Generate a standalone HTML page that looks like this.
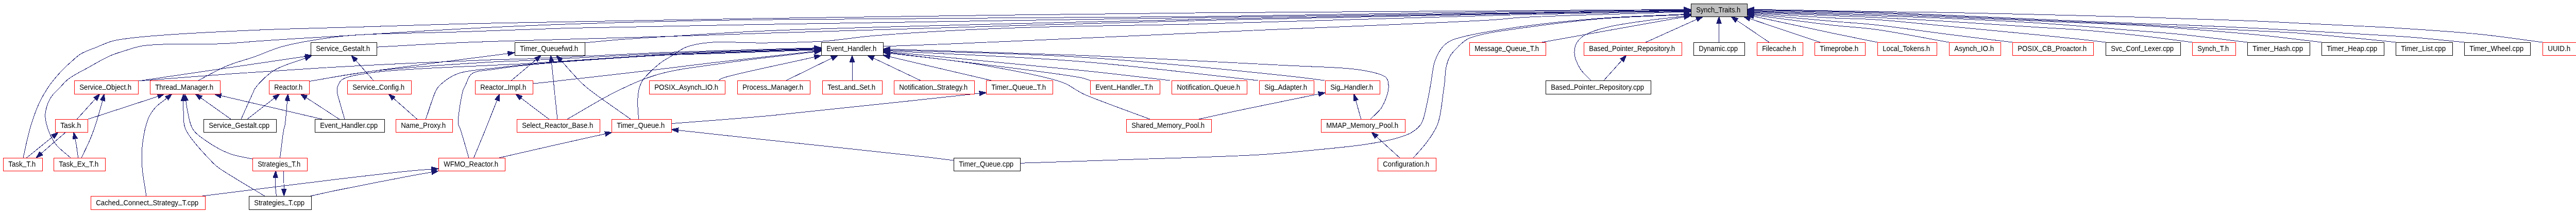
<!DOCTYPE html><html><head><meta charset="utf-8"><style>html,body{margin:0;padding:0;background:#fff;overflow:hidden}svg{display:block;will-change:transform}text{font-family:"Liberation Sans",sans-serif;font-size:14.00px;fill:#000}</style></head><body>
<svg width="5007" height="411" viewBox="0 0 5007 411">
<rect width="5007" height="411" fill="#fff"/>
<path fill="none" stroke="#191970" stroke-width="1" shape-rendering="crispEdges" d="M45.0,306.0 C47.7,294.0 50.2,281.4 53.0,270.0 C55.6,259.5 57.6,250.6 61.0,240.0 C65.0,227.5 70.3,212.2 76.0,200.0 C81.1,189.1 87.0,179.0 93.0,170.0 C98.4,161.9 104.5,154.5 110.0,148.0 C114.8,142.4 119.2,137.7 124.0,133.0 C128.6,128.4 132.9,124.5 138.0,120.0 C143.8,115.0 149.6,108.9 157.0,104.4 C165.6,99.2 176.9,95.8 187.0,91.7 C197.1,87.6 207.0,82.7 217.5,79.8 C228.0,76.9 236.8,76.0 250.0,74.3 C270.2,71.7 296.5,69.5 327.4,67.3 C373.5,64.0 457.3,60.1 500.0,58.2 C525.2,57.1 535.9,56.9 560.0,56.1 C596.4,55.0 646.9,53.7 697.0,52.3 C758.0,50.5 832.6,47.9 900.0,46.2 C966.9,44.5 1023.6,43.7 1100.0,42.3 C1202.5,40.4 1314.3,38.2 1460.0,36.0 C1685.2,32.6 2055.6,27.6 2320.0,25.0 C2546.3,22.8 2775.4,21.9 2950.0,20.7 C3074.2,19.8 3162.5,19.2 3268.7,18.4 M137.0,306.0 C127.0,296.7 114.8,288.9 107.0,278.0 C99.1,267.0 92.9,250.9 90.0,240.0 C88.0,232.5 87.2,227.2 88.0,220.0 C89.0,210.9 93.0,198.6 98.0,190.0 C102.6,182.1 110.0,176.3 116.0,170.0 C121.7,164.0 125.7,158.6 133.0,153.0 C143.1,145.2 159.6,137.5 173.0,130.0 C186.5,122.5 200.8,113.8 213.7,108.2 C224.6,103.4 234.7,100.7 245.0,97.5 C254.9,94.4 263.1,91.3 274.4,89.3 C289.3,86.7 306.4,86.4 327.0,85.6 C356.3,84.4 402.3,86.0 433.6,84.7 C458.4,83.7 478.4,81.3 500.0,79.8 C520.5,78.4 536.6,77.3 560.0,75.8 C593.1,73.7 634.0,71.4 680.0,68.7 C742.3,65.0 828.4,59.4 900.0,55.7 C968.2,52.2 1023.6,49.5 1100.0,46.9 C1202.5,43.4 1314.3,40.5 1460.0,38.3 C1685.2,34.8 2055.6,35.3 2320.0,32.3 C2546.3,29.7 2775.4,24.6 2950.0,22.3 C3074.2,20.7 3162.5,20.2 3268.7,19.1 M385.0,156.0 C403.3,146.7 421.5,135.8 440.0,128.0 C457.8,120.5 476.4,116.2 494.0,110.0 C511.0,104.0 526.9,96.4 544.0,91.4 C561.2,86.3 577.3,83.3 597.0,79.8 C621.5,75.5 645.6,71.5 680.0,68.7 C735.7,64.1 828.4,64.0 900.0,61.6 C968.3,59.3 1023.6,56.7 1100.0,54.6 C1202.5,51.8 1314.3,50.2 1460.0,47.7 C1685.2,43.8 2055.6,38.4 2320.0,34.3 C2546.3,30.8 2775.4,27.3 2950.0,24.7 C3074.2,22.8 3162.5,21.6 3268.7,20.0 M731.0,91.2 C787.3,88.3 841.3,84.8 900.0,82.4 C963.8,79.7 1033.3,78.2 1100.0,76.2 C1166.7,74.2 1233.3,72.5 1300.0,70.5 C1366.7,68.4 1410.7,66.7 1500.0,63.9 C1680.7,58.3 2064.6,46.4 2320.0,40.0 C2543.8,34.4 2775.4,30.1 2950.0,26.6 C3074.2,24.1 3162.5,22.7 3268.7,20.7 M1135.0,83.0 C1156.7,81.0 1176.0,78.9 1200.0,77.0 C1229.7,74.7 1260.9,72.9 1300.0,70.5 C1355.2,67.2 1410.7,63.0 1500.0,59.3 C1680.7,51.9 2064.6,43.5 2320.0,37.7 C2543.8,32.6 2775.4,28.4 2950.0,25.6 C3074.2,23.6 3162.5,22.8 3268.7,21.4 M1239.5,231.0 C1239.0,217.3 1236.8,202.5 1238.0,190.0 C1239.0,179.1 1239.7,169.8 1245.0,160.0 C1251.8,147.5 1269.3,132.3 1280.0,123.5 C1287.5,117.3 1293.3,114.8 1301.0,110.0 C1310.3,104.2 1320.3,95.9 1332.0,91.4 C1345.0,86.4 1358.1,84.2 1376.0,82.5 C1403.6,79.8 1445.7,83.5 1482.0,83.1 C1520.3,82.7 1563.6,82.3 1600.0,79.8 C1631.5,77.6 1654.9,73.0 1688.0,70.0 C1730.7,66.2 1784.6,62.8 1835.0,60.0 C1888.4,57.1 1936.0,55.0 2000.0,53.0 C2089.1,50.2 2195.4,49.7 2320.0,46.7 C2494.8,42.5 2775.4,32.7 2950.0,28.5 C3074.2,25.5 3162.5,24.3 3268.7,22.3 M1714.0,90.0 C1758.0,88.3 1791.7,87.2 1846.0,85.0 C1933.7,81.4 2088.1,74.5 2190.0,70.0 C2271.5,66.4 2322.2,63.9 2410.0,60.0 C2541.1,54.1 2820.9,43.6 2900.0,38.4 C2925.3,36.7 2926.1,35.5 2950.0,34.0 C3010.3,30.3 3162.5,26.8 3268.7,23.2 M1980.0,316.3 C2053.3,313.9 2124.8,311.6 2200.0,309.0 C2279.2,306.2 2379.4,303.9 2444.0,300.0 C2486.6,297.4 2515.2,294.4 2550.0,291.0 C2583.8,287.7 2621.1,284.4 2650.0,280.0 C2672.3,276.6 2692.7,273.0 2709.0,268.4 C2721.0,265.0 2731.0,262.2 2739.6,257.0 C2747.2,252.4 2753.7,247.8 2758.6,240.0 C2764.8,230.1 2766.8,213.4 2770.0,200.0 C2773.1,186.7 2775.1,173.3 2777.5,160.0 C2779.9,146.8 2780.8,132.1 2784.5,120.6 C2787.7,110.9 2791.8,102.0 2797.0,95.0 C2801.5,88.9 2806.8,84.1 2813.0,80.4 C2819.3,76.6 2824.6,75.3 2834.6,72.6 C2856.0,66.8 2899.3,59.4 2937.7,53.8 C2985.6,46.8 3045.3,40.3 3100.0,36.0 C3155.6,31.6 3212.5,30.4 3268.7,27.7 M2743.4,306.0 C2752.3,295.7 2762.1,286.0 2770.0,275.0 C2777.9,264.0 2785.6,254.0 2790.8,240.0 C2797.4,222.2 2799.8,189.1 2802.0,175.0 C2803.0,168.3 2803.3,165.9 2804.0,160.0 C2805.0,151.7 2804.9,139.1 2807.0,130.0 C2808.8,122.0 2811.5,114.1 2815.0,108.0 C2818.0,102.8 2822.3,99.0 2826.0,95.0 C2829.3,91.4 2832.2,88.2 2836.0,85.0 C2840.1,81.5 2844.2,77.9 2850.0,75.0 C2857.9,71.1 2868.3,68.7 2880.0,66.0 C2896.0,62.3 2913.6,60.0 2937.7,56.6 C2978.1,50.9 3045.3,41.7 3100.0,37.0 C3155.6,32.2 3212.5,31.3 3268.7,28.5 M2993.0,82.0 L3268.9,32.8 M3088.0,156.0 C3081.7,149.3 3073.9,142.8 3069.0,136.0 C3064.8,130.1 3061.7,123.9 3059.5,118.0 C3057.6,112.9 3056.2,108.0 3056.0,103.0 C3055.8,98.0 3056.5,92.4 3058.0,88.0 C3059.3,84.2 3061.4,81.1 3064.0,78.0 C3066.9,74.5 3070.6,71.3 3075.0,68.5 C3080.4,65.1 3086.9,62.7 3094.5,60.0 C3104.4,56.5 3116.0,53.4 3129.6,50.5 C3148.1,46.5 3173.3,43.1 3196.0,40.0 C3219.7,36.7 3244.5,34.2 3268.8,31.4 M3113.0,156.0 L3148.1,116.9 M3194.3,82.0 L3293.4,37.5 M3336.6,82.0 L3336.6,45.3 M3434.0,82.0 L3371.0,39.4 M3533.0,82.0 C3511.0,74.7 3489.3,67.5 3467.0,60.0 C3443.9,52.3 3420.1,44.2 3396.6,36.3 M51.6,306.0 L102.6,264.9 M128.0,256.0 L80.1,297.3 M151.7,306.0 C150.5,297.3 149.2,286.8 148.0,280.0 C147.2,275.5 146.5,272.7 145.7,269.0 M149.4,231.0 L185.0,191.8 M158.0,306.0 C163.7,294.0 170.2,281.6 175.0,270.0 C179.3,259.6 182.7,250.1 186.0,240.0 C189.3,230.0 192.6,218.3 195.0,210.0 C196.7,204.1 197.7,199.9 199.1,194.8 M171.0,231.0 C180.7,227.9 187.4,225.7 200.0,221.6 C223.3,214.0 286.5,193.7 300.0,189.0 C303.5,187.8 304.3,187.4 306.5,186.6 M269.0,157.0 L592.8,109.4 M269.0,157.0 C329.3,152.3 384.8,147.6 450.0,143.0 C526.6,137.6 615.8,131.8 700.0,127.3 C785.8,122.7 903.7,117.7 960.0,115.7 C987.0,114.8 993.0,115.2 1020.0,114.2 C1076.3,112.2 1213.6,104.7 1280.0,102.0 C1321.1,100.4 1340.9,99.9 1380.0,98.7 C1435.4,97.0 1513.8,94.8 1580.7,92.9 M468.0,231.0 C475.7,214.0 486.1,190.4 491.0,180.0 C493.2,175.3 493.0,174.0 496.0,170.0 C502.2,161.7 517.4,145.7 532.0,136.5 C548.8,126.0 572.4,120.7 592.6,112.8 M448.0,231.0 L389.8,189.7 M480.0,231.0 L532.5,190.2 M724.8,156.0 L690.5,117.0 M625.0,231.0 L429.0,185.5 M658.5,231.0 L594.2,189.2 M669.0,231.0 C666.0,220.7 662.6,209.8 660.0,200.0 C657.7,191.2 654.0,181.5 654.0,175.0 C654.0,170.9 654.9,168.2 656.4,165.0 C658.1,161.3 659.4,157.5 664.0,154.4 C673.6,147.9 694.6,144.8 720.0,141.0 C771.9,133.3 906.7,129.2 960.0,126.3 C986.7,124.9 993.0,125.0 1020.0,123.5 C1076.3,120.3 1213.6,109.7 1280.0,106.0 C1321.1,103.7 1340.9,103.2 1380.0,101.7 C1435.4,99.6 1513.8,97.2 1580.7,94.9 M809.5,231.0 L764.0,190.8 M826.4,231.0 C833.1,212.3 840.7,185.9 846.5,175.0 C849.2,170.0 850.1,168.6 854.0,165.0 C860.9,158.5 873.9,148.4 888.0,143.0 C907.0,135.8 936.1,135.1 960.0,132.0 C983.5,129.0 999.4,127.2 1030.0,124.5 C1087.6,119.4 1215.4,110.6 1280.0,107.0 C1320.8,104.8 1340.9,104.5 1380.0,103.0 C1435.4,100.9 1513.8,98.3 1580.7,96.0 M919.6,306.0 C927.3,287.3 935.1,268.7 942.7,250.0 C950.2,231.4 957.4,212.9 964.8,194.4 M1065.4,231.0 L1011.1,190.0 M910.0,306.0 C904.5,287.3 897.1,261.0 893.4,250.0 C891.8,245.3 890.1,244.9 889.6,240.0 C888.2,227.9 895.2,187.1 898.8,175.0 C900.3,170.1 901.5,168.9 903.5,165.0 C906.6,159.0 908.7,148.1 915.8,143.0 C925.2,136.1 943.5,136.9 960.0,134.2 C980.6,130.9 999.4,128.5 1030.0,125.5 C1087.6,119.8 1215.4,111.0 1280.0,107.5 C1320.8,105.3 1340.9,105.4 1380.0,104.0 C1435.4,102.1 1513.8,99.3 1580.7,97.0 M1082.0,231.0 C1080.0,212.3 1077.3,187.7 1076.0,175.0 C1075.3,168.4 1075.2,166.2 1074.6,160.0 C1073.6,149.9 1071.8,133.5 1070.4,120.2 M1101.0,231.0 C1134.3,212.3 1169.2,190.2 1201.0,175.0 C1228.4,161.9 1250.4,151.8 1280.0,143.5 C1315.4,133.6 1355.8,129.6 1400.0,123.1 C1454.0,115.2 1520.5,108.1 1580.8,100.6 M1224.0,231.0 C1197.8,212.3 1162.1,188.0 1145.5,175.0 C1137.4,168.6 1134.8,166.6 1128.0,160.0 C1117.2,149.6 1101.7,131.2 1088.5,116.8 M1303.3,239.6 C1323.3,238.1 1339.3,236.9 1363.4,235.0 C1399.7,232.1 1442.5,229.1 1500.0,223.7 C1598.6,214.4 1767.4,195.2 1901.2,181.0 M2232.0,231.0 C2203.7,220.5 2170.5,208.6 2147.0,199.6 C2130.2,193.2 2114.3,187.5 2104.0,182.7 C2097.9,179.9 2095.4,178.0 2090.0,175.0 C2082.5,170.8 2076.3,165.0 2063.0,160.0 C2032.0,148.4 1955.3,134.4 1900.0,125.0 C1843.4,115.4 1784.8,110.4 1727.2,103.2 M2327.0,231.0 C2351.3,225.7 2370.9,221.2 2400.0,215.0 C2442.9,205.9 2506.3,193.2 2559.5,182.3 M2641.8,231.0 L2631.6,194.8 M2660.0,231.0 C2667.3,223.3 2676.3,217.3 2682.0,208.0 C2688.3,197.7 2694.3,181.5 2695.0,171.0 C2695.5,163.4 2694.7,155.7 2691.0,151.0 C2687.5,146.5 2681.2,145.2 2674.0,142.8 C2662.6,139.0 2647.3,136.4 2628.0,134.0 C2596.1,130.1 2554.5,129.8 2500.0,127.0 C2403.7,122.0 2231.0,112.7 2100.0,107.4 C1973.6,102.3 1851.5,99.4 1727.3,95.4 M2716.9,306.0 L2671.8,265.0 M600.4,157.6 C633.6,152.1 658.2,147.4 700.0,141.2 C770.7,130.8 890.5,116.3 985.8,103.8 M600.4,157.6 C640.3,151.2 673.1,143.9 720.0,138.3 C786.1,130.4 906.6,123.0 960.0,119.9 C986.6,118.3 993.0,118.7 1020.0,117.5 C1076.3,114.9 1213.6,107.0 1280.0,104.0 C1321.1,102.2 1340.9,101.6 1380.0,100.2 C1435.4,98.3 1513.8,96.0 1580.7,93.9 M992.6,156.0 C1003.7,146.7 1017.2,135.5 1026.0,128.0 C1031.8,123.1 1035.6,119.8 1040.4,115.7 M1034.0,162.0 C1041.0,161.3 1044.3,161.1 1055.0,160.0 C1090.1,156.3 1220.0,141.4 1280.0,134.3 C1320.0,129.6 1340.9,126.6 1380.0,122.0 C1435.4,115.5 1513.9,107.0 1580.8,99.5 M1395.0,156.0 C1396.7,154.8 1396.9,153.8 1400.0,152.4 C1417.0,144.7 1520.7,124.5 1581.0,110.5 M1526.0,156.0 L1614.4,112.8 M1654.0,156.0 L1654.0,120.3 M1786.6,156.0 L1695.4,112.7 M1924.0,156.0 L1727.0,110.0 M2116.0,156.0 C2110.7,154.3 2109.0,153.0 2100.0,151.0 C2057.5,141.6 1851.5,118.5 1727.2,102.2 M2271.0,156.0 C2214.0,149.5 2168.0,143.7 2100.0,136.6 C1999.7,126.1 1851.5,112.7 1727.2,100.8 M2441.6,156.0 C2327.7,143.8 2216.5,129.0 2100.0,119.5 C1978.6,109.6 1851.5,105.7 1727.3,98.7 M2571.0,156.0 C2547.3,153.1 2533.3,150.9 2500.0,147.3 C2421.0,138.9 2231.1,119.4 2100.0,111.0 C1973.7,102.9 1851.5,101.7 1727.3,97.0 M284.0,380.0 C281.3,361.7 277.3,341.3 276.0,325.0 C275.0,312.1 274.7,302.0 275.5,290.0 C276.4,277.1 278.8,261.7 281.6,250.0 C283.9,240.6 286.3,232.3 290.0,225.0 C293.3,218.5 297.0,213.4 302.0,208.0 C307.8,201.8 316.5,196.3 323.7,190.4 M393.4,380.0 C478.9,369.3 575.9,356.8 650.0,348.0 C706.6,341.3 766.6,334.2 800.0,331.0 C816.7,329.4 825.2,329.0 837.7,328.0 M603.0,380.0 C618.7,376.6 629.9,373.9 650.0,369.7 C685.9,362.3 766.5,346.6 800.0,340.4 C816.8,337.3 825.3,336.0 837.9,333.8 M536.5,380.0 C535.8,374.0 534.9,367.4 534.5,362.0 C534.2,357.6 534.1,353.3 534.2,350.0 C534.2,347.7 534.4,346.2 534.5,344.3 M550.5,331.0 C550.7,339.0 550.9,348.4 551.0,355.0 C551.1,359.6 551.1,362.8 551.1,366.7 M513.5,380.0 C483.7,361.7 439.5,336.4 424.0,325.0 C418.1,320.7 417.5,320.1 412.6,315.0 C401.1,303.0 368.1,269.4 360.0,250.0 C354.7,237.4 356.6,225.0 356.0,215.0 C355.6,207.5 356.0,201.9 356.0,195.3 M491.0,308.5 C476.0,305.0 460.7,303.6 446.0,298.0 C430.3,292.0 412.7,281.9 400.0,273.0 C389.6,265.7 380.0,259.5 374.0,250.0 C367.9,240.3 366.3,225.1 364.0,215.0 C362.3,207.5 361.8,201.7 360.7,195.1 M543.5,306.0 C546.0,287.3 549.0,258.5 551.0,250.0 C551.6,247.4 552.1,247.6 552.7,245.0 C554.4,237.1 556.0,211.8 557.7,195.2 M968.8,306.0 C1005.9,297.5 1044.4,288.6 1080.0,280.6 C1112.9,273.2 1143.2,266.5 1174.8,259.5 M1850.5,311.0 C1833.7,308.9 1824.1,307.5 1800.0,304.7 C1739.4,297.7 1568.9,280.0 1480.0,270.4 C1416.4,263.5 1371.0,258.4 1316.5,252.5 M4935.0,82.0 C4894.7,76.8 4857.3,70.9 4814.0,66.5 C4764.2,61.4 4692.1,56.9 4653.0,54.4 C4630.6,52.9 4621.9,52.6 4600.0,51.5 C4564.5,49.7 4500.2,46.9 4460.0,44.9 C4429.6,43.4 4410.8,42.2 4380.0,40.9 C4337.8,39.1 4272.2,37.3 4230.0,35.9 C4199.2,34.9 4182.3,34.2 4150.0,33.2 C4100.2,31.7 4022.5,29.8 3960.0,28.3 C3899.2,26.8 3836.2,25.3 3780.0,24.3 C3730.4,23.4 3692.7,23.3 3640.0,22.5 C3571.6,21.4 3482.9,19.7 3404.3,18.2 M4783.0,82.0 C4748.7,78.7 4712.2,74.7 4680.0,72.1 C4651.7,69.9 4630.4,68.9 4600.0,67.1 C4559.8,64.7 4500.2,61.3 4460.0,59.1 C4429.6,57.4 4410.8,56.3 4380.0,54.8 C4337.8,52.7 4272.2,49.8 4230.0,48.2 C4199.2,47.0 4182.3,46.7 4150.0,45.5 C4100.1,43.6 4022.5,40.2 3960.0,37.5 C3899.2,34.9 3836.2,31.9 3780.0,29.5 C3730.4,27.4 3692.7,25.4 3640.0,23.8 C3571.6,21.8 3482.9,20.9 3404.3,19.4 M4650.0,82.0 C4633.3,80.2 4620.9,78.7 4600.0,76.7 C4565.1,73.3 4500.2,67.0 4460.0,64.1 C4429.6,61.9 4410.8,61.4 4380.0,59.8 C4337.8,57.6 4272.2,54.5 4230.0,52.2 C4199.2,50.5 4182.4,49.2 4150.0,47.5 C4100.2,44.9 4022.5,42.0 3960.0,39.2 C3899.2,36.5 3836.2,33.6 3780.0,31.2 C3730.4,29.1 3692.7,27.1 3640.0,25.5 C3571.6,23.4 3482.9,22.3 3404.3,20.7 M4506.0,82.0 C4490.7,80.1 4477.4,78.4 4460.0,76.4 C4437.0,73.7 4410.8,70.4 4380.0,67.4 C4337.8,63.3 4272.2,58.1 4230.0,54.8 C4199.2,52.4 4182.4,51.0 4150.0,49.2 C4100.2,46.4 4022.5,43.6 3960.0,40.9 C3899.2,38.3 3836.2,35.4 3780.0,33.2 C3730.4,31.3 3692.7,29.8 3640.0,28.2 C3571.6,26.1 3482.9,24.0 3404.3,22.0 M4362.0,82.0 C4318.0,76.8 4268.6,70.3 4230.0,66.4 C4200.0,63.4 4182.3,62.4 4150.0,59.8 C4100.2,55.8 4022.5,49.0 3960.0,44.9 C3899.2,40.9 3836.2,38.1 3780.0,35.6 C3730.4,33.4 3692.7,32.4 3640.0,30.6 C3571.6,28.3 3482.9,25.7 3404.3,23.2 M4255.0,82.0 C4246.7,80.9 4240.7,80.1 4230.0,78.7 C4210.9,76.2 4178.8,71.9 4150.0,68.7 C4116.3,65.0 4073.8,60.8 4040.0,58.1 C4011.2,55.8 3992.0,55.2 3960.0,53.2 C3912.0,50.2 3836.2,44.9 3780.0,41.5 C3730.4,38.5 3692.7,36.3 3640.0,33.8 C3571.6,30.6 3482.9,27.6 3404.3,24.5 M4087.0,82.0 C4071.3,80.1 4057.7,78.4 4040.0,76.4 C4016.9,73.8 3992.0,71.3 3960.0,68.1 C3912.0,63.3 3836.2,56.1 3780.0,50.8 C3730.4,46.2 3680.2,40.6 3640.0,38.0 C3609.7,36.0 3591.1,36.4 3560.0,34.9 C3516.6,32.8 3456.2,28.9 3404.3,26.0 M3906.0,82.0 C3864.0,76.8 3823.1,71.9 3780.0,66.4 C3734.6,60.6 3680.2,52.5 3640.0,48.2 C3609.7,45.0 3591.1,44.2 3560.0,41.5 C3516.6,37.7 3456.2,32.2 3404.2,27.6 M3783.0,82.0 C3735.3,73.7 3680.9,62.6 3640.0,57.0 C3609.6,52.9 3591.0,52.7 3560.0,49.2 C3516.6,44.3 3456.1,35.9 3404.2,29.3 M3644.0,82.0 C3616.0,76.3 3592.3,71.7 3560.0,65.0 C3516.0,55.8 3456.0,42.7 3404.0,31.6"/>
<g fill="#191970" stroke="#191970" stroke-width="1" shape-rendering="crispEdges">
<polygon points="3282.0,18.3 3268.7,23.0 3268.7,13.7"/>
<polygon points="3282.0,19.0 3268.7,23.8 3268.7,14.5"/>
<polygon points="3282.0,19.8 3268.8,24.6 3268.6,15.3"/>
<polygon points="3282.0,20.5 3268.8,25.4 3268.6,16.1"/>
<polygon points="3282.0,21.2 3268.8,26.0 3268.6,16.7"/>
<polygon points="3282.0,22.0 3268.8,26.9 3268.6,17.6"/>
<polygon points="3282.0,22.8 3268.9,27.9 3268.6,18.6"/>
<polygon points="3282.0,27.0 3268.9,32.3 3268.5,23.0"/>
<polygon points="3282.0,27.8 3269.0,33.1 3268.5,23.8"/>
<polygon points="3282.0,30.5 3269.7,37.4 3268.1,28.3"/>
<polygon points="3282.0,29.8 3269.3,36.0 3268.2,26.7"/>
<polygon points="3157.0,107.0 3151.6,120.0 3144.7,113.8"/>
<polygon points="3305.5,32.0 3295.3,41.7 3291.5,33.2"/>
<polygon points="3336.6,32.0 3341.2,45.3 3331.9,45.3"/>
<polygon points="3360.0,32.0 3373.6,35.6 3368.4,43.3"/>
<polygon points="3384.0,32.0 3398.1,31.8 3395.1,40.7"/>
<polygon points="113.0,256.6 105.6,268.6 99.7,261.3"/>
<polygon points="70.0,306.0 77.0,293.8 83.1,300.8"/>
<polygon points="143.0,256.0 150.3,268.1 141.2,270.0"/>
<polygon points="194.0,182.0 188.5,195.0 181.6,188.7"/>
<polygon points="202.5,182.0 203.6,196.1 194.6,193.6"/>
<polygon points="319.0,182.0 308.1,191.0 304.9,182.2"/>
<polygon points="606.0,107.5 593.5,114.0 592.2,104.8"/>
<polygon points="1594.0,92.5 1580.8,97.5 1580.6,88.2"/>
<polygon points="605.0,108.0 594.3,117.2 590.9,108.5"/>
<polygon points="379.0,182.0 392.5,185.9 387.2,193.5"/>
<polygon points="543.0,182.0 535.4,193.8 529.6,186.5"/>
<polygon points="681.7,107.0 694.0,113.9 687.0,120.1"/>
<polygon points="416.0,182.5 430.0,181.0 427.9,190.0"/>
<polygon points="583.0,182.0 596.7,185.3 591.6,193.1"/>
<polygon points="1594.0,94.5 1580.9,99.6 1580.6,90.3"/>
<polygon points="754.0,182.0 767.0,187.3 760.9,194.3"/>
<polygon points="1594.0,95.5 1580.9,100.6 1580.5,91.3"/>
<polygon points="969.7,182.0 969.1,196.1 960.5,192.6"/>
<polygon points="1000.5,182.0 1013.9,186.3 1008.3,193.7"/>
<polygon points="1594.0,96.5 1580.9,101.6 1580.5,92.3"/>
<polygon points="1069.0,107.0 1075.0,119.7 1065.8,120.7"/>
<polygon points="1594.0,99.0 1581.4,105.3 1580.2,96.0"/>
<polygon points="1079.5,107.0 1091.9,113.7 1085.0,120.0"/>
<polygon points="1914.4,179.6 1901.7,185.6 1900.7,176.4"/>
<polygon points="1714.0,101.5 1727.8,98.6 1726.6,107.8"/>
<polygon points="2572.5,179.6 2560.4,186.8 2558.5,177.7"/>
<polygon points="2628.0,182.0 2636.1,193.5 2627.1,196.1"/>
<polygon points="1714.0,95.0 1727.4,90.8 1727.1,100.1"/>
<polygon points="2662.0,256.0 2675.0,261.5 2668.7,268.4"/>
<polygon points="999.0,102.0 986.5,108.4 985.2,99.2"/>
<polygon points="1594.0,93.5 1580.9,98.6 1580.6,89.3"/>
<polygon points="1050.5,107.0 1043.4,119.2 1037.4,112.1"/>
<polygon points="1594.0,98.0 1581.3,104.1 1580.3,94.9"/>
<polygon points="1594.0,107.5 1582.1,115.0 1580.0,106.0"/>
<polygon points="1626.4,107.0 1616.5,117.0 1612.4,108.7"/>
<polygon points="1654.0,107.0 1658.7,120.3 1649.3,120.3"/>
<polygon points="1683.4,107.0 1697.4,108.5 1693.4,116.9"/>
<polygon points="1714.0,107.0 1728.0,105.5 1725.9,114.6"/>
<polygon points="1714.0,100.5 1727.8,97.6 1726.6,106.8"/>
<polygon points="1714.0,99.5 1727.7,96.1 1726.8,105.4"/>
<polygon points="1714.0,98.0 1727.5,94.1 1727.0,103.4"/>
<polygon points="1714.0,96.5 1727.5,92.4 1727.1,101.6"/>
<polygon points="334.0,182.0 326.6,194.0 320.7,186.8"/>
<polygon points="851.0,327.0 838.1,332.7 837.4,323.4"/>
<polygon points="851.0,331.5 838.7,338.4 837.1,329.2"/>
<polygon points="535.3,331.0 539.2,344.5 529.9,344.0"/>
<polygon points="551.3,380.0 546.5,366.8 555.8,366.6"/>
<polygon points="356.0,182.0 360.6,195.3 351.4,195.3"/>
<polygon points="358.5,182.0 365.3,194.4 356.1,195.9"/>
<polygon points="559.0,182.0 562.3,195.7 553.0,194.8"/>
<polygon points="1187.8,256.6 1175.8,264.0 1173.8,255.0"/>
<polygon points="1303.3,251.0 1317.0,247.8 1316.0,257.1"/>
<polygon points="3391.0,18.0 3404.4,13.6 3404.2,22.9"/>
<polygon points="3391.0,19.2 3404.4,14.8 3404.2,24.1"/>
<polygon points="3391.0,20.4 3404.4,16.0 3404.2,25.3"/>
<polygon points="3391.0,21.6 3404.4,17.3 3404.2,26.6"/>
<polygon points="3391.0,22.8 3404.4,18.6 3404.1,27.9"/>
<polygon points="3391.0,24.0 3404.5,19.9 3404.1,29.2"/>
<polygon points="3391.0,25.2 3404.5,21.3 3404.0,30.6"/>
<polygon points="3391.0,26.4 3404.7,23.0 3403.8,32.2"/>
<polygon points="3391.0,27.6 3404.8,24.7 3403.6,33.9"/>
<polygon points="3391.0,28.8 3405.0,27.0 3403.0,36.1"/>
</g>
<rect x="3282.5" y="7.5" width="109" height="25" fill="#bfbfbf" stroke="#000"/>
<text x="3335.2" y="24.0" text-anchor="middle" textLength="86.0" lengthAdjust="spacingAndGlyphs">Synch<tspan dy="-2.5">_</tspan><tspan dy="2.5">Traits.h</tspan></text>
<rect x="603.5" y="82.5" width="128" height="25" fill="#fff" stroke="#000"/>
<text x="665.7" y="99.0" text-anchor="middle" textLength="105.0" lengthAdjust="spacingAndGlyphs">Service<tspan dy="-2.5">_</tspan><tspan dy="2.5">Gestalt.h</tspan></text>
<rect x="999.5" y="82.5" width="136" height="25" fill="#fff" stroke="#000"/>
<text x="1065.7" y="99.0" text-anchor="middle" textLength="113.0" lengthAdjust="spacingAndGlyphs">Timer<tspan dy="-2.5">_</tspan><tspan dy="2.5">Queuefwd.h</tspan></text>
<rect x="1594.5" y="82.5" width="120" height="25" fill="#fff" stroke="#000"/>
<text x="1652.7" y="99.0" text-anchor="middle" textLength="97.0" lengthAdjust="spacingAndGlyphs">Event<tspan dy="-2.5">_</tspan><tspan dy="2.5">Handler.h</tspan></text>
<rect x="2852.5" y="82.5" width="148" height="25" fill="#fff" stroke="#ff0000"/>
<text x="2924.7" y="99.0" text-anchor="middle" textLength="125.0" lengthAdjust="spacingAndGlyphs">Message<tspan dy="-2.5">_</tspan><tspan dy="2.5">Queue</tspan><tspan dy="-2.5">_</tspan><tspan dy="2.5">T.h</tspan></text>
<rect x="3074.5" y="82.5" width="190" height="25" fill="#fff" stroke="#ff0000"/>
<text x="3167.7" y="99.0" text-anchor="middle" textLength="167.0" lengthAdjust="spacingAndGlyphs">Based<tspan dy="-2.5">_</tspan><tspan dy="2.5">Pointer</tspan><tspan dy="-2.5">_</tspan><tspan dy="2.5">Repository.h</tspan></text>
<rect x="3287.5" y="82.5" width="99" height="25" fill="#fff" stroke="#000"/>
<text x="3335.2" y="99.0" text-anchor="middle" textLength="76.0" lengthAdjust="spacingAndGlyphs">Dynamic.cpp</text>
<rect x="3410.5" y="82.5" width="89" height="25" fill="#fff" stroke="#ff0000"/>
<text x="3453.2" y="99.0" text-anchor="middle" textLength="66.0" lengthAdjust="spacingAndGlyphs">Filecache.h</text>
<rect x="3522.5" y="82.5" width="98" height="25" fill="#fff" stroke="#ff0000"/>
<text x="3569.7" y="99.0" text-anchor="middle" textLength="75.0" lengthAdjust="spacingAndGlyphs">Timeprobe.h</text>
<rect x="3644.5" y="82.5" width="115" height="25" fill="#fff" stroke="#ff0000"/>
<text x="3700.2" y="99.0" text-anchor="middle" textLength="92.0" lengthAdjust="spacingAndGlyphs">Local<tspan dy="-2.5">_</tspan><tspan dy="2.5">Tokens.h</tspan></text>
<rect x="3783.5" y="82.5" width="100" height="25" fill="#fff" stroke="#ff0000"/>
<text x="3831.7" y="99.0" text-anchor="middle" textLength="77.0" lengthAdjust="spacingAndGlyphs">Asynch<tspan dy="-2.5">_</tspan><tspan dy="2.5">IO.h</tspan></text>
<rect x="3906.5" y="82.5" width="157" height="25" fill="#fff" stroke="#ff0000"/>
<text x="3983.2" y="99.0" text-anchor="middle" textLength="134.0" lengthAdjust="spacingAndGlyphs">POSIX<tspan dy="-2.5">_</tspan><tspan dy="2.5">CB</tspan><tspan dy="-2.5">_</tspan><tspan dy="2.5">Proactor.h</tspan></text>
<rect x="4087.5" y="82.5" width="145" height="25" fill="#fff" stroke="#000"/>
<text x="4158.2" y="99.0" text-anchor="middle" textLength="122.0" lengthAdjust="spacingAndGlyphs">Svc<tspan dy="-2.5">_</tspan><tspan dy="2.5">Conf</tspan><tspan dy="-2.5">_</tspan><tspan dy="2.5">Lexer.cpp</tspan></text>
<rect x="4255.5" y="82.5" width="84" height="25" fill="#fff" stroke="#ff0000"/>
<text x="4295.7" y="99.0" text-anchor="middle" textLength="61.0" lengthAdjust="spacingAndGlyphs">Synch<tspan dy="-2.5">_</tspan><tspan dy="2.5">T.h</tspan></text>
<rect x="4362.5" y="82.5" width="121" height="25" fill="#fff" stroke="#000"/>
<text x="4421.2" y="99.0" text-anchor="middle" textLength="98.0" lengthAdjust="spacingAndGlyphs">Timer<tspan dy="-2.5">_</tspan><tspan dy="2.5">Hash.cpp</tspan></text>
<rect x="4506.5" y="82.5" width="121" height="25" fill="#fff" stroke="#000"/>
<text x="4565.2" y="99.0" text-anchor="middle" textLength="98.0" lengthAdjust="spacingAndGlyphs">Timer<tspan dy="-2.5">_</tspan><tspan dy="2.5">Heap.cpp</tspan></text>
<rect x="4650.5" y="82.5" width="110" height="25" fill="#fff" stroke="#000"/>
<text x="4703.7" y="99.0" text-anchor="middle" textLength="87.0" lengthAdjust="spacingAndGlyphs">Timer<tspan dy="-2.5">_</tspan><tspan dy="2.5">List.cpp</tspan></text>
<rect x="4783.5" y="82.5" width="128" height="25" fill="#fff" stroke="#000"/>
<text x="4845.7" y="99.0" text-anchor="middle" textLength="105.0" lengthAdjust="spacingAndGlyphs">Timer<tspan dy="-2.5">_</tspan><tspan dy="2.5">Wheel.cpp</tspan></text>
<rect x="4935.5" y="82.5" width="67" height="25" fill="#fff" stroke="#ff0000"/>
<text x="4967.2" y="99.0" text-anchor="middle" textLength="44.0" lengthAdjust="spacingAndGlyphs">UUID.h</text>
<rect x="144.5" y="156.5" width="124" height="26" fill="#fff" stroke="#ff0000"/>
<text x="204.7" y="173.5" text-anchor="middle" textLength="101.0" lengthAdjust="spacingAndGlyphs">Service<tspan dy="-2.5">_</tspan><tspan dy="2.5">Object.h</tspan></text>
<rect x="291.5" y="156.5" width="136" height="26" fill="#fff" stroke="#ff0000"/>
<text x="357.7" y="173.5" text-anchor="middle" textLength="113.0" lengthAdjust="spacingAndGlyphs">Thread<tspan dy="-2.5">_</tspan><tspan dy="2.5">Manager.h</tspan></text>
<rect x="522.5" y="156.5" width="78" height="26" fill="#fff" stroke="#ff0000"/>
<text x="559.7" y="173.5" text-anchor="middle" textLength="55.0" lengthAdjust="spacingAndGlyphs">Reactor.h</text>
<rect x="674.5" y="156.5" width="124" height="26" fill="#fff" stroke="#ff0000"/>
<text x="734.7" y="173.5" text-anchor="middle" textLength="101.0" lengthAdjust="spacingAndGlyphs">Service<tspan dy="-2.5">_</tspan><tspan dy="2.5">Config.h</tspan></text>
<rect x="922.5" y="156.5" width="112" height="26" fill="#fff" stroke="#ff0000"/>
<text x="976.7" y="173.5" text-anchor="middle" textLength="89.0" lengthAdjust="spacingAndGlyphs">Reactor<tspan dy="-2.5">_</tspan><tspan dy="2.5">Impl.h</tspan></text>
<rect x="1260.5" y="156.5" width="147" height="26" fill="#fff" stroke="#ff0000"/>
<text x="1332.2" y="173.5" text-anchor="middle" textLength="124.0" lengthAdjust="spacingAndGlyphs">POSIX<tspan dy="-2.5">_</tspan><tspan dy="2.5">Asynch</tspan><tspan dy="-2.5">_</tspan><tspan dy="2.5">IO.h</tspan></text>
<rect x="1431.5" y="156.5" width="141" height="26" fill="#fff" stroke="#ff0000"/>
<text x="1500.2" y="173.5" text-anchor="middle" textLength="118.0" lengthAdjust="spacingAndGlyphs">Process<tspan dy="-2.5">_</tspan><tspan dy="2.5">Manager.h</tspan></text>
<rect x="1596.5" y="156.5" width="116" height="26" fill="#fff" stroke="#ff0000"/>
<text x="1652.7" y="173.5" text-anchor="middle" textLength="93.0" lengthAdjust="spacingAndGlyphs">Test<tspan dy="-2.5">_</tspan><tspan dy="2.5">and</tspan><tspan dy="-2.5">_</tspan><tspan dy="2.5">Set.h</tspan></text>
<rect x="1735.5" y="156.5" width="156" height="26" fill="#fff" stroke="#ff0000"/>
<text x="1811.7" y="173.5" text-anchor="middle" textLength="133.0" lengthAdjust="spacingAndGlyphs">Notification<tspan dy="-2.5">_</tspan><tspan dy="2.5">Strategy.h</tspan></text>
<rect x="1914.5" y="156.5" width="129" height="26" fill="#fff" stroke="#ff0000"/>
<text x="1977.2" y="173.5" text-anchor="middle" textLength="106.0" lengthAdjust="spacingAndGlyphs">Timer<tspan dy="-2.5">_</tspan><tspan dy="2.5">Queue</tspan><tspan dy="-2.5">_</tspan><tspan dy="2.5">T.h</tspan></text>
<rect x="2116.5" y="156.5" width="135" height="26" fill="#fff" stroke="#ff0000"/>
<text x="2182.2" y="173.5" text-anchor="middle" textLength="112.0" lengthAdjust="spacingAndGlyphs">Event<tspan dy="-2.5">_</tspan><tspan dy="2.5">Handler</tspan><tspan dy="-2.5">_</tspan><tspan dy="2.5">T.h</tspan></text>
<rect x="2274.5" y="156.5" width="146" height="26" fill="#fff" stroke="#ff0000"/>
<text x="2345.7" y="173.5" text-anchor="middle" textLength="123.0" lengthAdjust="spacingAndGlyphs">Notification<tspan dy="-2.5">_</tspan><tspan dy="2.5">Queue.h</tspan></text>
<rect x="2444.5" y="156.5" width="106" height="26" fill="#fff" stroke="#ff0000"/>
<text x="2495.7" y="173.5" text-anchor="middle" textLength="83.0" lengthAdjust="spacingAndGlyphs">Sig<tspan dy="-2.5">_</tspan><tspan dy="2.5">Adapter.h</tspan></text>
<rect x="2572.5" y="156.5" width="106" height="26" fill="#fff" stroke="#ff0000"/>
<text x="2623.7" y="173.5" text-anchor="middle" textLength="83.0" lengthAdjust="spacingAndGlyphs">Sig<tspan dy="-2.5">_</tspan><tspan dy="2.5">Handler.h</tspan></text>
<rect x="3000.5" y="156.5" width="204" height="26" fill="#fff" stroke="#000"/>
<text x="3100.7" y="173.5" text-anchor="middle" textLength="181.0" lengthAdjust="spacingAndGlyphs">Based<tspan dy="-2.5">_</tspan><tspan dy="2.5">Pointer</tspan><tspan dy="-2.5">_</tspan><tspan dy="2.5">Repository.cpp</tspan></text>
<rect x="107.5" y="231.5" width="63" height="25" fill="#fff" stroke="#ff0000"/>
<text x="137.2" y="248.0" text-anchor="middle" textLength="40.0" lengthAdjust="spacingAndGlyphs">Task.h</text>
<rect x="395.5" y="231.5" width="141" height="25" fill="#fff" stroke="#000"/>
<text x="464.2" y="248.0" text-anchor="middle" textLength="118.0" lengthAdjust="spacingAndGlyphs">Service<tspan dy="-2.5">_</tspan><tspan dy="2.5">Gestalt.cpp</tspan></text>
<rect x="611.5" y="231.5" width="135" height="25" fill="#fff" stroke="#000"/>
<text x="677.2" y="248.0" text-anchor="middle" textLength="112.0" lengthAdjust="spacingAndGlyphs">Event<tspan dy="-2.5">_</tspan><tspan dy="2.5">Handler.cpp</tspan></text>
<rect x="768.5" y="231.5" width="110" height="25" fill="#fff" stroke="#ff0000"/>
<text x="821.7" y="248.0" text-anchor="middle" textLength="87.0" lengthAdjust="spacingAndGlyphs">Name<tspan dy="-2.5">_</tspan><tspan dy="2.5">Proxy.h</tspan></text>
<rect x="1003.5" y="231.5" width="161" height="25" fill="#fff" stroke="#ff0000"/>
<text x="1082.2" y="248.0" text-anchor="middle" textLength="138.0" lengthAdjust="spacingAndGlyphs">Select<tspan dy="-2.5">_</tspan><tspan dy="2.5">Reactor</tspan><tspan dy="-2.5">_</tspan><tspan dy="2.5">Base.h</tspan></text>
<rect x="1187.5" y="231.5" width="116" height="25" fill="#fff" stroke="#ff0000"/>
<text x="1243.7" y="248.0" text-anchor="middle" textLength="93.0" lengthAdjust="spacingAndGlyphs">Timer<tspan dy="-2.5">_</tspan><tspan dy="2.5">Queue.h</tspan></text>
<rect x="2186.5" y="231.5" width="165" height="25" fill="#fff" stroke="#ff0000"/>
<text x="2267.2" y="248.0" text-anchor="middle" textLength="142.0" lengthAdjust="spacingAndGlyphs">Shared<tspan dy="-2.5">_</tspan><tspan dy="2.5">Memory</tspan><tspan dy="-2.5">_</tspan><tspan dy="2.5">Pool.h</tspan></text>
<rect x="2564.5" y="231.5" width="163" height="25" fill="#fff" stroke="#ff0000"/>
<text x="2644.2" y="248.0" text-anchor="middle" textLength="140.0" lengthAdjust="spacingAndGlyphs">MMAP<tspan dy="-2.5">_</tspan><tspan dy="2.5">Memory</tspan><tspan dy="-2.5">_</tspan><tspan dy="2.5">Pool.h</tspan></text>
<rect x="6.5" y="306.5" width="76" height="25" fill="#fff" stroke="#ff0000"/>
<text x="42.7" y="323.0" text-anchor="middle" textLength="53.0" lengthAdjust="spacingAndGlyphs">Task<tspan dy="-2.5">_</tspan><tspan dy="2.5">T.h</tspan></text>
<rect x="104.5" y="306.5" width="100" height="25" fill="#fff" stroke="#ff0000"/>
<text x="152.7" y="323.0" text-anchor="middle" textLength="77.0" lengthAdjust="spacingAndGlyphs">Task<tspan dy="-2.5">_</tspan><tspan dy="2.5">Ex</tspan><tspan dy="-2.5">_</tspan><tspan dy="2.5">T.h</tspan></text>
<rect x="490.5" y="306.5" width="106" height="25" fill="#fff" stroke="#ff0000"/>
<text x="541.7" y="323.0" text-anchor="middle" textLength="83.0" lengthAdjust="spacingAndGlyphs">Strategies<tspan dy="-2.5">_</tspan><tspan dy="2.5">T.h</tspan></text>
<rect x="851.5" y="306.5" width="129" height="25" fill="#fff" stroke="#ff0000"/>
<text x="914.2" y="323.0" text-anchor="middle" textLength="106.0" lengthAdjust="spacingAndGlyphs">WFMO<tspan dy="-2.5">_</tspan><tspan dy="2.5">Reactor.h</tspan></text>
<rect x="1851.5" y="306.5" width="129" height="25" fill="#fff" stroke="#000"/>
<text x="1914.2" y="323.0" text-anchor="middle" textLength="106.0" lengthAdjust="spacingAndGlyphs">Timer<tspan dy="-2.5">_</tspan><tspan dy="2.5">Queue.cpp</tspan></text>
<rect x="2674.5" y="306.5" width="113" height="25" fill="#fff" stroke="#ff0000"/>
<text x="2729.2" y="323.0" text-anchor="middle" textLength="90.0" lengthAdjust="spacingAndGlyphs">Configuration.h</text>
<rect x="176.5" y="380.5" width="222" height="26" fill="#fff" stroke="#ff0000"/>
<text x="285.7" y="397.5" text-anchor="middle" textLength="199.0" lengthAdjust="spacingAndGlyphs">Cached<tspan dy="-2.5">_</tspan><tspan dy="2.5">Connect</tspan><tspan dy="-2.5">_</tspan><tspan dy="2.5">Strategy</tspan><tspan dy="-2.5">_</tspan><tspan dy="2.5">T.cpp</tspan></text>
<rect x="483.5" y="380.5" width="121" height="26" fill="#fff" stroke="#000"/>
<text x="542.2" y="397.5" text-anchor="middle" textLength="98.0" lengthAdjust="spacingAndGlyphs">Strategies<tspan dy="-2.5">_</tspan><tspan dy="2.5">T.cpp</tspan></text>
</svg></body></html>
